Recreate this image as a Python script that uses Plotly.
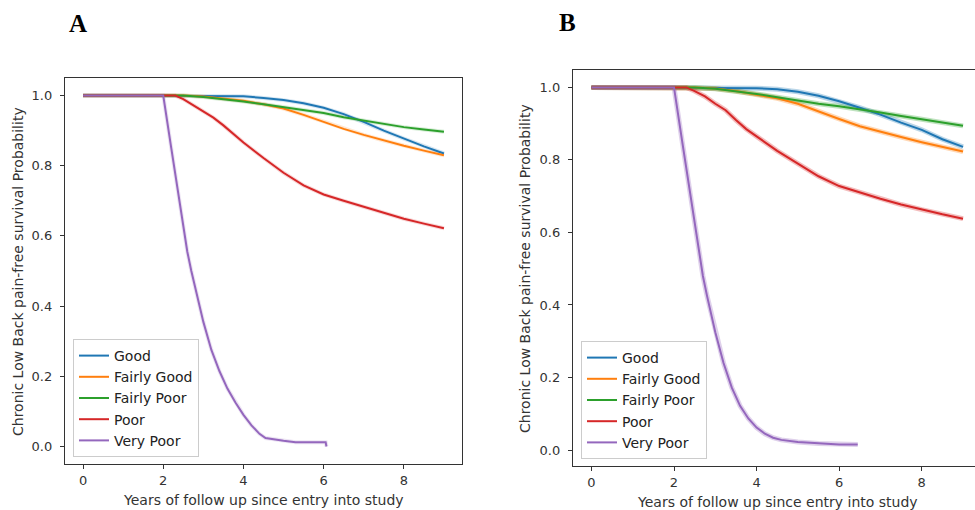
import plotly.graph_objects as go

# ---------------- data ----------------
groups = ["Good", "Fairly Good", "Fairly Poor", "Poor", "Very Poor"]
colors = ["#1f77b4", "#ff7f0e", "#2ca02c", "#d62728", "#9467bd"]

x_ticks = [0, 2, 4, 6, 8]
y_ticks = [0.0, 0.2, 0.4, 0.6, 0.8, 1.0]

# Panel A
a_good_t = [0, 3.5, 4.0, 4.5, 5.0, 5.5, 6.0, 6.5, 7.0, 7.5, 8.0, 8.5, 9.0]
a_good_s = [1, 1.0, 0.998, 0.993, 0.987, 0.978, 0.965, 0.947, 0.925, 0.900, 0.877, 0.855, 0.835]

a_fgood_t = [0, 2.5, 3.0, 3.5, 4.0, 4.5, 5.0, 5.5, 6.0, 6.5, 7.0, 7.5, 8.0, 8.5, 9.0]
a_fgood_s = [1, 1.0, 0.997, 0.992, 0.985, 0.975, 0.963, 0.945, 0.925, 0.905, 0.888, 0.872, 0.857, 0.843, 0.830]

a_fpoor_t = [0, 2.5, 3.0, 3.5, 4.0, 4.5, 5.0, 5.5, 6.0, 6.5, 7.0, 7.5, 8.0, 8.5, 9.0]
a_fpoor_s = [1, 1.0, 0.996, 0.990, 0.983, 0.975, 0.966, 0.958, 0.950, 0.938, 0.928, 0.918, 0.910, 0.903, 0.897]

a_poor_t = [0, 2.3, 2.5, 2.75, 3.0, 3.25, 3.5, 3.75, 4.0, 4.5, 5.0, 5.5, 6.0, 6.5, 7.0, 7.5, 8.0, 8.5, 9.0]
a_poor_s = [1, 1.0, 0.990, 0.972, 0.955, 0.937, 0.915, 0.890, 0.866, 0.822, 0.780, 0.744, 0.718, 0.700, 0.683, 0.665, 0.649, 0.635, 0.622]

a_vpoor_t = [0, 2.0, 2.2, 2.4, 2.5, 2.6, 2.7, 2.8, 3.0, 3.2, 3.4, 3.6, 3.8, 4.0, 4.2, 4.4, 4.55, 5.0, 5.3, 6.05, 6.07]
a_vpoor_s = [1, 1.0, 0.85, 0.70, 0.625, 0.555, 0.50, 0.45, 0.355, 0.275, 0.215, 0.165, 0.125, 0.090, 0.060, 0.036, 0.024, 0.016, 0.012, 0.012, 0.0]

# Panel B
b_good_t = [0, 3.5, 4.0, 4.5, 5.0, 5.5, 6.0, 6.5, 7.0, 7.5, 8.0, 8.5, 9.0]
b_good_s = [1, 1.0, 0.998, 0.995, 0.988, 0.977, 0.962, 0.944, 0.925, 0.903, 0.883, 0.857, 0.836]

b_fgood_t = [0, 2.5, 3.0, 3.5, 4.0, 4.5, 5.0, 5.5, 6.0, 6.5, 7.0, 7.5, 8.0, 8.5, 9.0]
b_fgood_s = [1, 1.0, 0.997, 0.990, 0.980, 0.970, 0.955, 0.933, 0.913, 0.893, 0.877, 0.863, 0.849, 0.836, 0.823]

b_fpoor_t = [0, 2.5, 3.0, 3.5, 4.0, 4.5, 5.0, 5.5, 6.0, 6.5, 7.0, 7.5, 8.0, 8.5, 9.0]
b_fpoor_s = [1, 1.0, 0.996, 0.990, 0.982, 0.973, 0.963, 0.955, 0.948, 0.940, 0.931, 0.921, 0.912, 0.903, 0.894]

b_poor_t = [0, 2.3, 2.5, 2.75, 3.0, 3.25, 3.5, 3.75, 4.0, 4.5, 5.0, 5.5, 6.0, 6.5, 7.0, 7.5, 8.0, 8.5, 9.0]
b_poor_s = [1, 1.0, 0.990, 0.975, 0.955, 0.937, 0.910, 0.885, 0.865, 0.825, 0.790, 0.755, 0.728, 0.710, 0.693, 0.677, 0.663, 0.650, 0.638]

b_vpoor_t = [0, 2.0, 2.2, 2.4, 2.5, 2.6, 2.7, 2.8, 3.0, 3.2, 3.4, 3.6, 3.8, 4.0, 4.2, 4.4, 4.6, 5.0, 5.5, 6.0, 6.45]
b_vpoor_s = [1, 1.0, 0.85, 0.70, 0.62, 0.55, 0.48, 0.425, 0.325, 0.24, 0.172, 0.122, 0.087, 0.062, 0.045, 0.034, 0.028, 0.022, 0.018, 0.015, 0.015]

panel_a = [(a_good_t, a_good_s), (a_fgood_t, a_fgood_s), (a_fpoor_t, a_fpoor_s),
           (a_poor_t, a_poor_s), (a_vpoor_t, a_vpoor_s)]
panel_b = [(b_good_t, b_good_s), (b_fgood_t, b_fgood_s), (b_fpoor_t, b_fpoor_s),
           (b_poor_t, b_poor_s), (b_vpoor_t, b_vpoor_s)]

x_title = "Years of follow up since entry into study"
y_title = "Chronic Low Back pain-free survival Probability"
panel_labels = ["A", "B"]

# ---------------- figure ----------------
FONT = "DejaVu Sans"
AX = "#333333"
TXT = "#333333"

fig = go.Figure()


def rgba(hexc, a):
    h = hexc.lstrip("#")
    return "rgba(%d,%d,%d,%.2f)" % (int(h[0:2], 16), int(h[2:4], 16), int(h[4:6], 16), a)


for (t, s), name, c in zip(panel_a, groups, colors):
    fig.add_trace(go.Scatter(x=t, y=s, mode="lines", line=dict(color=rgba(c, 0.18), width=4),
                             xaxis="x", yaxis="y", showlegend=False, hoverinfo="skip"))
for (t, s), name, c in zip(panel_a, groups, colors):
    fig.add_trace(go.Scatter(x=t, y=s, mode="lines", name=name, line=dict(color=c, width=2),
                             xaxis="x", yaxis="y", legend="legend"))

for (t, s), name, c in zip(panel_b, groups, colors):
    fig.add_trace(go.Scatter(x=t, y=s, mode="lines", line=dict(color=rgba(c, 0.3), width=5),
                             xaxis="x2", yaxis="y2", showlegend=False, hoverinfo="skip"))
for (t, s), name, c in zip(panel_b, groups, colors):
    fig.add_trace(go.Scatter(x=t, y=s, mode="lines", name=name, line=dict(color=c, width=2),
                             xaxis="x2", yaxis="y2", legend="legend2"))

W, H = 975, 510

axis_common = dict(showline=True, linecolor=AX, linewidth=1.3, ticks="outside", ticklen=4,
                   tickwidth=1.2, tickcolor=AX, showgrid=False, zeroline=False,
                   tickfont=dict(family=FONT, size=13, color=TXT))

legend_common = dict(font=dict(family=FONT, size=14, color="#222222"),
                     bgcolor="rgba(255,255,255,0.85)", bordercolor="#cccccc", borderwidth=1,
                     xanchor="left", yanchor="bottom", tracegroupgap=0, itemwidth=30)


def label(text, x, y, size, family=FONT, angle=0, color=TXT):
    return dict(text=text, x=x / W, y=(H - y) / H, xref="paper", yref="paper",
                xanchor="center", yanchor="middle", textangle=angle, showarrow=False,
                font=dict(family=family, size=size, color=color))


fig.update_layout(
    width=W, height=H,
    margin=dict(l=0, r=0, t=0, b=0),
    paper_bgcolor="white", plot_bgcolor="white",
    xaxis=dict(domain=[65 / W, 462 / W], range=[-0.45, 9.45], tickvals=x_ticks,
               mirror=True, anchor="y", **axis_common),
    yaxis=dict(domain=[(H - 464) / H, (H - 78) / H], range=[-0.05, 1.05], tickvals=y_ticks,
               tickformat=".1f", mirror=True, anchor="x", ticklabelstandoff=5, **axis_common),
    xaxis2=dict(domain=[573 / W, 1.0], range=[-0.446, 9.29], tickvals=x_ticks,
                mirror=True, anchor="y2", **axis_common),
    yaxis2=dict(domain=[(H - 466) / H, (H - 70) / H], range=[-0.044, 1.048], tickvals=y_ticks,
                tickformat=".1f", mirror=False, anchor="x2", ticklabelstandoff=5, **axis_common),
    legend=dict(x=73 / W, y=(H - 457) / H, **legend_common),
    legend2=dict(x=581 / W, y=(H - 459) / H, **legend_common),
    annotations=[
        label("<b>%s</b>" % panel_labels[0], 77.5, 23.5, 25, family="Liberation Serif", color="black"),
        label("<b>%s</b>" % panel_labels[1], 567.5, 22.5, 25, family="Liberation Serif", color="black"),
        label(x_title, 263.5, 500, 14),
        label(x_title, 777, 501.5, 14),
        label(y_title, 18, 272, 14, angle=-90),
        label(y_title, 525, 269, 14, angle=-90),
    ],
)

fig.write_html("out.html")
